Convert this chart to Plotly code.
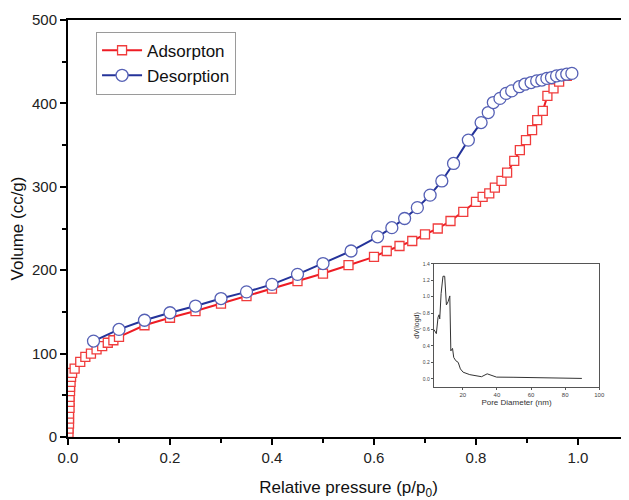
import plotly.graph_objects as go

# Adsorption branch (red squares)
ads_p = [0.001, 0.001, 0.002, 0.002, 0.002, 0.003, 0.003, 0.003, 0.004, 0.004, 0.005, 0.006, 0.008,
         0.013, 0.024, 0.034, 0.045, 0.056, 0.067, 0.078, 0.089, 0.10,
         0.15, 0.20, 0.25, 0.30, 0.35, 0.40, 0.45, 0.50, 0.55, 0.60, 0.625, 0.65, 0.675, 0.70,
         0.725, 0.75, 0.775, 0.80, 0.813, 0.826, 0.837, 0.85, 0.861, 0.875, 0.886, 0.898, 0.91,
         0.92, 0.931, 0.94, 0.952, 0.963, 0.978]
ads_v = [5, 10, 16, 22, 28, 35, 42, 48, 55, 60, 66, 72, 77,
         82, 90, 96, 100, 105, 109, 113, 116, 120,
         134, 143, 151, 160, 169, 178, 187, 196, 206, 216, 223, 229, 235, 243,
         250, 259, 270, 282, 288, 292, 299, 307, 317, 331, 344, 356, 368,
         380, 391, 409, 418, 426, 433]

# Desorption branch (blue circles)
des_p = [0.05, 0.10, 0.15, 0.20, 0.25, 0.30, 0.35, 0.40, 0.45, 0.50, 0.555, 0.607, 0.635, 0.66,
         0.685, 0.71, 0.733, 0.756, 0.785, 0.81, 0.824, 0.834, 0.847, 0.859, 0.87, 0.885, 0.896,
         0.908, 0.919, 0.929, 0.939, 0.948, 0.958, 0.968, 0.978, 0.988]
des_v = [115, 129, 140, 149, 157, 166, 174, 183, 195, 208, 223, 240, 251, 262,
         275, 290, 307, 328, 356, 377, 389, 401, 406, 412, 415, 420, 423,
         425, 427, 428, 430, 431, 433, 434, 435, 436]

# Inset: pore size distribution
pore_d = [3.1, 4.5, 5.5, 6.1, 6.5, 7.3, 8.4, 9.4, 10.4, 11.4, 12.4, 13.0, 14.0, 14.7, 15.9,
          17.3, 18.6, 20.2, 24.1, 28, 31, 34.3, 37, 39.8, 50, 60, 70, 80, 89.8]
pore_dv = [0.6, 0.55, 0.75, 0.78, 0.73, 1.04, 1.25, 1.25, 0.9, 0.94, 1.01, 0.34, 0.37, 0.26, 0.22,
           0.2, 0.12, 0.08, 0.05, 0.04, 0.025, 0.06, 0.045, 0.02, 0.018, 0.015, 0.012, 0.008, 0.004]

x_ticks = [0.0, 0.2, 0.4, 0.6, 0.8, 1.0]
x_ticklabels = ["0.0", "0.2", "0.4", "0.6", "0.8", "1.0"]
y_ticks = [0, 100, 200, 300, 400, 500]

fig = go.Figure()
fig.add_trace(go.Scatter(
    x=ads_p, y=ads_v, mode="lines+markers", name="Adsorpton",
    line=dict(color="#ee1c24", width=2),
    marker=dict(symbol="square", size=9, color="white", line=dict(color="#f03c3c", width=1.3)),
))
fig.add_trace(go.Scatter(
    x=des_p, y=des_v, mode="lines+markers", name="Desorption",
    line=dict(color="#24339a", width=2),
    marker=dict(symbol="circle", size=12, color="white", line=dict(color="#5560b5", width=1.3)),
))
fig.add_trace(go.Scatter(
    x=pore_d, y=pore_dv, mode="lines", showlegend=False,
    line=dict(color="#333333", width=1), xaxis="x2", yaxis="y2",
))

# The page body has an 8px margin, so the figure is sized to fill the remaining window.
fig.update_layout(
    width=621, height=492,
    margin=dict(l=60, r=0, t=12, b=63, autoexpand=False),
    paper_bgcolor="white", plot_bgcolor="white",
    font=dict(family="Arial, Liberation Sans, sans-serif", color="#222222"),
    showlegend=True,
    legend=dict(x=0.05, y=0.972, xanchor="left", yanchor="top",
                bordercolor="#9a9a9a", borderwidth=1, bgcolor="white",
                font=dict(size=17, color="#111111"), tracegroupgap=0,
                itemwidth=40),
    xaxis=dict(range=[0, 1.1], tickvals=x_ticks, ticktext=x_ticklabels, automargin=False,
               showgrid=False, zeroline=False, showline=True, linecolor="black", linewidth=2,
               mirror=True, ticks="outside", ticklen=6, tickwidth=2, tickcolor="black",
               tickfont=dict(size=15, color="#222222"),
               minor=dict(dtick=0.1, tick0=0, ticks="outside", ticklen=4, tickwidth=2, tickcolor="black"),
               title=dict(text="Relative pressure (p/p<sub>0</sub>)", font=dict(size=17, color="#111111"), standoff=17)),
    yaxis=dict(range=[0, 500], tickvals=y_ticks, automargin=False,
               showgrid=False, zeroline=False, showline=True, linecolor="black", linewidth=2,
               ticks="outside", ticklen=6, tickwidth=2, tickcolor="black",
               tickfont=dict(size=15, color="#222222"),
               minor=dict(dtick=50, tick0=0, ticks="outside", ticklen=4, tickwidth=2, tickcolor="black"),
               title=dict(text="Volume (cc/g)", font=dict(size=17, color="#111111"), standoff=6)),
    xaxis2=dict(domain=[0.652, 0.947], anchor="y2", range=[3, 100], automargin=False,
                tickvals=[20, 40, 60, 80, 100], showgrid=False, zeroline=False,
                showline=True, linecolor="#555555", linewidth=1, mirror=True,
                ticks="outside", ticklen=2, tickwidth=1, tickcolor="#555555",
                tickfont=dict(size=6, color="#444444"),
                title=dict(text="Pore Diameter (nm)", font=dict(size=8, color="#333333"), standoff=2)),
    yaxis2=dict(domain=[0.12, 0.415], anchor="x2", range=[-0.1, 1.4], automargin=False,
                tickvals=[0.0, 0.2, 0.4, 0.6, 0.8, 1.0, 1.2, 1.4],
                ticktext=["0.0", "0.2", "0.4", "0.6", "0.8", "1.0", "1.2", "1.4"],
                showgrid=False, zeroline=False,
                showline=True, linecolor="#555555", linewidth=1, mirror=True,
                ticks="outside", ticklen=2, tickwidth=1, tickcolor="#555555",
                tickfont=dict(size=5, color="#444444"),
                title=dict(text="dV(logd)", font=dict(size=7, color="#333333"), standoff=2)),
)

fig.write_html("out.html")
